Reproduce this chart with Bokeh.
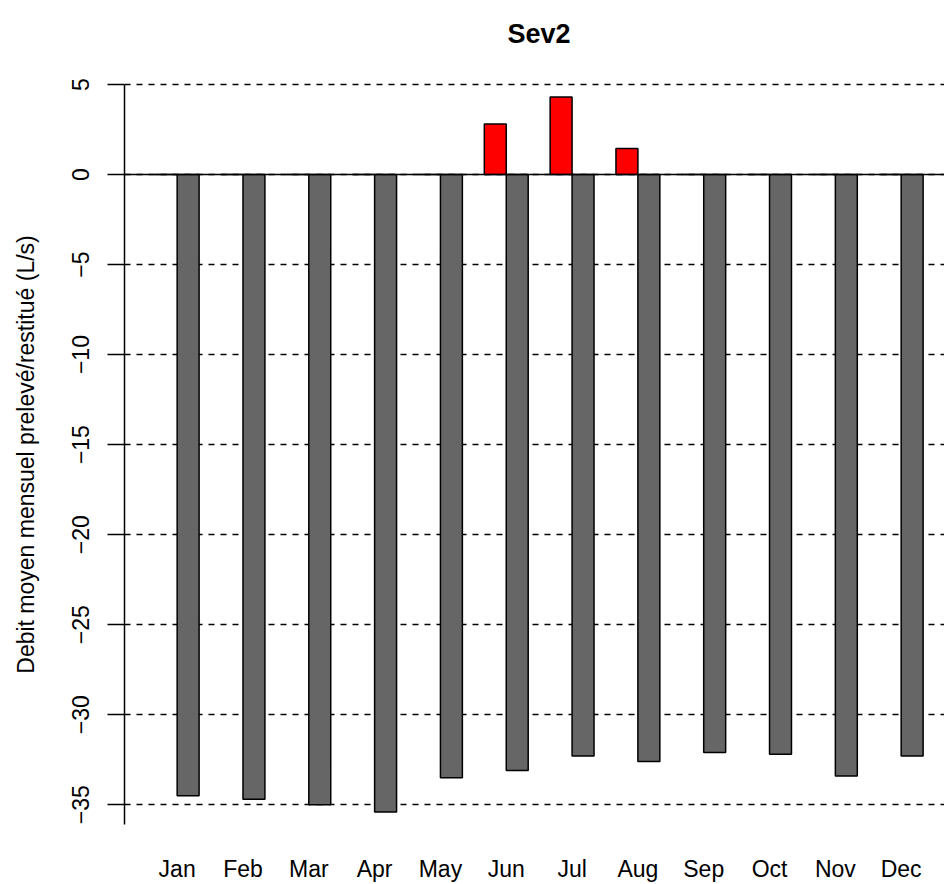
import numpy as np
from bokeh.plotting import figure
from bokeh.models import FixedTicker, Span, Title, ColumnDataSource
from bokeh.embed import file_html
from bokeh.resources import INLINE

# Monthly mean flows (L/s): returned (positive) and withdrawn (negative)
months = ["Jan", "Feb", "Mar", "Apr", "May", "Jun",
          "Jul", "Aug", "Sep", "Oct", "Nov", "Dec"]
restitue = [0, 0, 0, 0, 0, 2.8, 4.3, 1.45, 0, 0, 0, 0]
preleve = [-34.5, -34.7, -35.0, -35.4, -33.5, -33.1,
           -32.3, -32.6, -32.1, -32.2, -33.4, -32.3]
y_ticks = [5, 0, -5, -10, -15, -20, -25, -30, -35]

FONT = "Liberation Sans"

# grouped bar layout: one gap unit, then the two bars of each month
idx = np.arange(len(months))
x_red = 1.5 + 3 * idx
x_grey = 2.5 + 3 * idx
x_mid = 2.0 + 3 * idx

lo = min(min(preleve), 0)
hi = max(max(restitue), 0)
pad = 0.04 * (hi - lo)
y_range = (lo - pad, hi + pad)

W, H = 944, 884
TOP, BOTTOM, LEFT = 68, 41, 124
px_per_unit = 21.94
x_range = (-0.4, -0.4 + (W - LEFT) / px_per_unit)

p = figure(width=W, height=H, x_range=x_range, y_range=y_range,
           output_backend="svg", toolbar_location=None,
           min_border_left=LEFT, min_border_right=0,
           min_border_top=TOP, min_border_bottom=BOTTOM)
p.outline_line_color = None
p.background_fill_color = "white"
p.border_fill_color = "white"

p.title = Title(text="Sev2", align="left", offset=383, standoff=36,
                vertical_align="top",
                text_font=FONT, text_font_size="27px",
                text_font_style="bold", text_color="black")

# horizontal reference lines
p.xgrid.visible = False
p.ygrid.ticker = FixedTicker(ticks=y_ticks)
p.ygrid.grid_line_color = "black"
p.ygrid.grid_line_width = 1.6
p.ygrid.grid_line_dash = "6 6"
p.add_layout(Span(location=0, dimension="width", line_color="black",
                  line_width=1.5))

src_red = ColumnDataSource(dict(x=x_red, top=restitue, bottom=[0] * 12))
src_grey = ColumnDataSource(dict(x=x_grey, top=[0] * 12, bottom=preleve))
p.vbar(x="x", top="top", bottom="bottom", width=1, source=src_red,
       fill_color="#FF0000", line_color="black", line_width=1.5)
p.vbar(x="x", top="top", bottom="bottom", width=1, source=src_grey,
       fill_color="#666666", line_color="black", line_width=1.5)

# y axis
yax = p.yaxis[0]
yax.ticker = FixedTicker(ticks=y_ticks)
yax.major_label_overrides = {t: (str(t) if t >= 0 else "\u2212" + str(-t))
                             for t in y_ticks}
yax.major_label_orientation = "vertical"
yax.bounds = (-36.1, 5)
yax.minor_tick_line_color = None
yax.major_tick_out = 17
yax.major_tick_in = 0
yax.major_tick_line_width = 1.5
yax.axis_line_width = 1.5
yax.axis_line_color = "black"
yax.major_label_standoff = 18
yax.major_label_text_font = FONT
yax.major_label_text_font_size = "23px"
yax.major_label_text_color = "black"
yax.axis_label = "Debit moyen mensuel prelevé/restitué (L/s)"
yax.axis_label_text_font = FONT
yax.axis_label_text_font_size = "23px"
yax.axis_label_text_font_style = "normal"
yax.axis_label_text_color = "black"
yax.axis_label_standoff = 31

# x axis: month names under each group
xax = p.xaxis[0]
xax.ticker = FixedTicker(ticks=list(x_mid))
xax.major_label_overrides = {float(x): m for x, m in zip(x_mid, months)}
xax.axis_line_color = None
xax.major_tick_line_color = None
xax.minor_tick_line_color = None
xax.major_label_standoff = 9
xax.major_label_text_font = FONT
xax.major_label_text_font_size = "23px"
xax.major_label_text_color = "black"

open("out.html", "w").write(file_html(p, INLINE))
